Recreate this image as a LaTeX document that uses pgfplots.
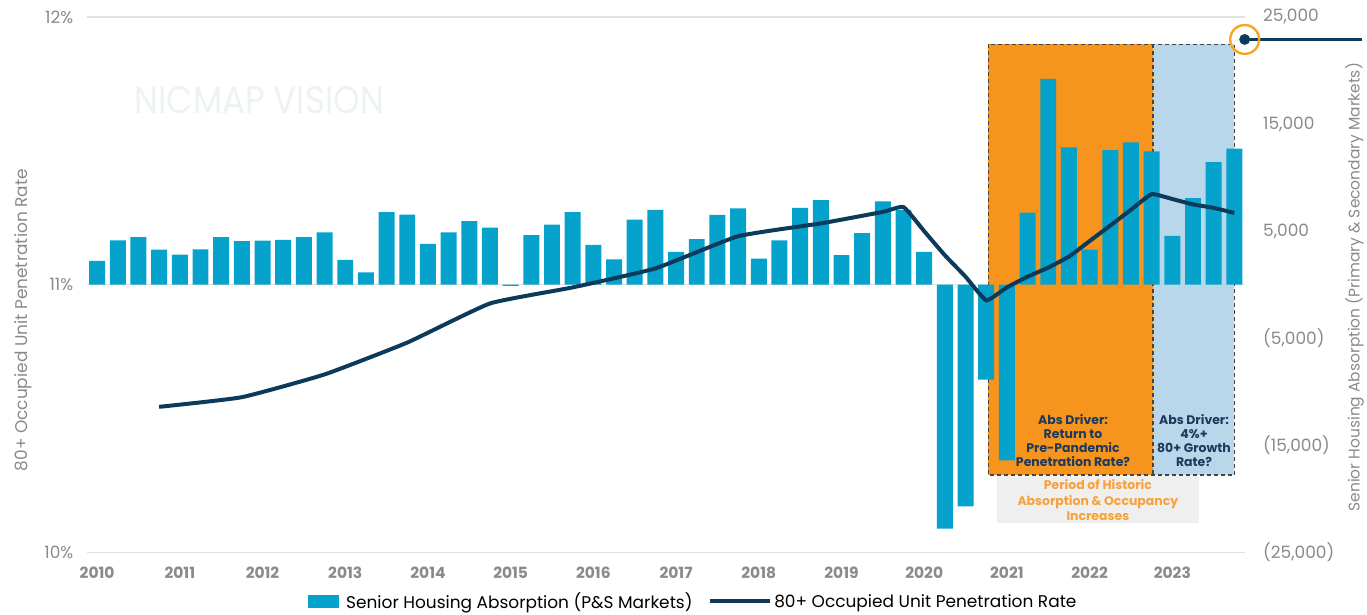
\documentclass[border=0pt]{standalone}
\usepackage{pgfplots}
\usepackage{pgfplotstable}
\usepackage{graphicx}
\pgfplotsset{compat=1.18}
\usepackage{fontspec}
\setmainfont{Poppins}
\definecolor{barblue}{HTML}{05A3CC}
\definecolor{navy}{HTML}{0B3A5B}
\definecolor{boxorange}{HTML}{F7941D}
\definecolor{boxblue}{HTML}{B8D7EB}
\definecolor{boxgray}{HTML}{EFEFEF}
\definecolor{txtorange}{HTML}{F7A13A}
\definecolor{txtnavy}{HTML}{1D3A5C}
\definecolor{labgray}{HTML}{8A8A8A}
\definecolor{gridgray}{HTML}{E2E2E2}
\definecolor{wmark}{HTML}{EDF3F2}
\definecolor{circorange}{HTML}{F5A623}
\definecolor{dashgray}{HTML}{454545}

\pgfplotstableread{
idx val
0 2220
1 4150
2 4440
3 3280
4 2800
5 3310
6 4440
7 4080
8 4120
9 4190
10 4440
11 4880
12 2330
13 1165
14 6770
15 6550
16 3820
17 4880
18 5940
19 5320
20 -100
21 4630
22 5610
23 6770
24 3710
25 2370
26 6080
27 6990
28 3060
29 4260
30 6520
31 7140
32 2440
33 4150
34 7170
35 7900
36 2770
37 4810
38 7790
39 6990
40 3060
41 -22760
42 -20690
43 -8850
44 -16390
45 6740
46 19230
47 12820
48 3280
49 12560
50 13290
51 12460
52 4550
53 8090
54 11440
55 12710
}\absdata

\pgfplotstableread{
idx rate
3 10.544
7 10.580
11 10.665
15 10.784
19 10.930
23 10.990
27 11.061
31 11.181
35 11.229
38 11.272
39 11.290
40 11.200
41 11.110
42 11.030
43 10.942
44 10.990
45 11.030
46 11.064
47 11.105
48 11.163
49 11.221
50 11.280
51 11.338
52 11.320
53 11.300
54 11.287
55 11.268
}\ratedata

\begin{document}
\begin{tikzpicture}[x=1pt,y=1pt]
\path (0,0) rectangle (1367,613);
\node[text=wmark, anchor=center] at (260,513) {\resizebox{250pt}{27pt}{NICMAP VISION}};
% left and right axis titles
\node[rotate=90, text=labgray, font=\fontsize{17}{17}\selectfont] at (23.5,292) {80+ Occupied Unit Penetration Rate};
\node[rotate=90, text=labgray, font=\fontsize{15.5}{16}\selectfont] at (1358,325) {Senior Housing Absorption (Primary \& Secondary Markets)};

\begin{axis}[
  set layers,
  at={(87pt,59pt)}, anchor=south west, scale only axis,
  width=1161pt, height=537pt,
  xmin=-0.5, xmax=55.5, ymin=-25000, ymax=25000,
  scaled y ticks=false,
  axis line style={draw=none}, major tick length=0pt,
  yticklabel pos=right,
  xtick={0,4,8,12,16,20,24,28,32,36,40,44,48,52},
  xticklabels={2010,2011,2012,2013,2014,2015,2016,2017,2018,2019,2020,2021,2022,2023},
  ytick={-25000,-15000,-5000,5000,15000,25000},
  yticklabels={{(25,000)},{(15,000)},{(5,000)},{5,000},{15,000},{25,000}},
  yticklabel style={font=\fontsize{17}{17}\selectfont, text=labgray, anchor=west, xshift=15pt},
  xticklabel style={font=\bfseries\fontsize{15.5}{16}\selectfont, text=labgray, yshift=-11pt},
  clip=false,
]
\begin{pgfonlayer}{axis background}
\draw[gridgray, line width=1.3pt] (axis cs:-0.5,25000) -- (axis cs:55.5,25000);
\draw[gridgray, line width=1.3pt] (axis cs:-0.5,0) -- (axis cs:55.5,0);
\draw[gridgray, line width=1.3pt] (axis cs:-0.5,-25000) -- (axis cs:55.5,-25000);
\fill[boxorange] (axis cs:43.1,22450) rectangle (axis cs:51.07,-17770);
\fill[boxblue] (axis cs:51.07,22450) rectangle (axis cs:55.0,-17770);
\draw[dashgray, line width=1.5pt, dash pattern=on 4pt off 3pt] (axis cs:43.1,22450) rectangle (axis cs:55.0,-17770);
\draw[dashgray, line width=1.5pt, dash pattern=on 4pt off 3pt] (axis cs:51.07,22450) -- (axis cs:51.07,-17770);
\fill[boxgray] (axis cs:43.5,-17900) rectangle (axis cs:53.3,-22220);
\end{pgfonlayer}
\addplot[ybar, bar width=16pt, fill=barblue, draw=none] table[x=idx, y=val] {\absdata};
\node[align=center, text=txtnavy, font=\bfseries\fontsize{12.5}{14}\selectfont] at (axis cs:47.2,-14530) {Abs Driver:\\Return to\\Pre-Pandemic\\Penetration Rate?};
\node[align=center, text=txtnavy, font=\bfseries\fontsize{12.5}{14}\selectfont] at (axis cs:53.05,-14530) {Abs Driver:\\4\%+\\80+ Growth\\Rate?};
\node[align=center, text=txtorange, font=\bfseries\fontsize{12.5}{15.5}\selectfont] at (axis cs:48.4,-20140) {Period of Historic\\Absorption \& Occupancy\\Increases};
\draw[navy, line width=3pt] (axis cs:55.5,22900) -- ++(118pt,0pt);
\draw[circorange, line width=2.4pt] (axis cs:55.5,22900) circle (14.5pt);
\fill[navy] (axis cs:55.5,22900) circle (5.5pt);
\end{axis}

\begin{axis}[
  at={(87pt,59pt)}, anchor=south west, scale only axis,
  width=1161pt, height=537pt,
  xmin=-0.5, xmax=55.5, ymin=10, ymax=12,
  axis line style={draw=none}, major tick length=0pt,
  hide x axis, yticklabel pos=left,
  ytick={10,11,12}, yticklabels={10\%,11\%,12\%},
  yticklabel style={font=\fontsize{17}{17}\selectfont, text=labgray, anchor=east, xshift=-10pt},
  legend style={at={(axis description cs:0.5237,-0.0912)}, anchor=center, draw=none, fill=none,
    legend columns=2, font=\fontsize{17}{17}\selectfont,
    /tikz/every even column/.append style={column sep=14pt}},
  legend cell align=left,
]
\addlegendimage{legend image code/.code={\fill[barblue] (0pt,-6pt) rectangle (30pt,6pt); \path (36pt,0pt);}}
\addlegendentry{Senior Housing Absorption (P\&S Markets)}
\addplot[navy, line width=4pt, smooth, tension=0.25,
  legend image code/.code={\draw[navy, line width=4pt] (0pt,0pt) -- (60pt,0pt);}]
  table[x=idx, y=rate] {\ratedata};
\addlegendentry{80+ Occupied Unit Penetration Rate}
\end{axis}
\end{tikzpicture}
\end{document}
